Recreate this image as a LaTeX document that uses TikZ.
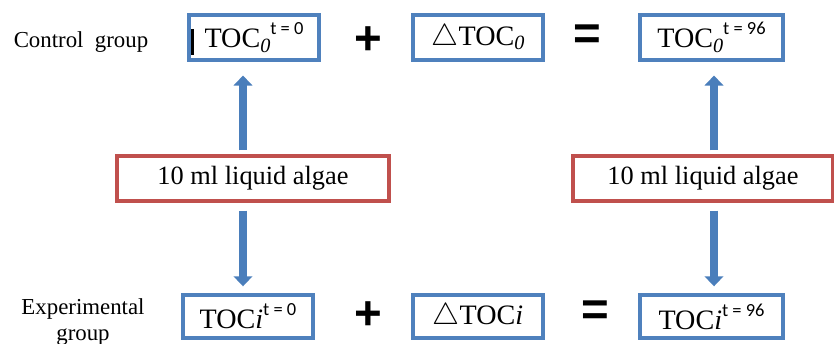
\documentclass[tikz,border=0pt]{standalone}
\usepackage{fontspec}
\setmainfont{Liberation Serif}
\newfontfamily\supfont[Numbers=Lining]{Carlito}
\newfontfamily\signfont{Liberation Sans}
\usetikzlibrary{arrows.meta}
\definecolor{AlgaBlue}{HTML}{4F81BD}
\definecolor{AlgaRed}{HTML}{C0504D}
\definecolor{AlgaArrow}{HTML}{4A7EBB}
\newcommand{\tocsub}[1]{\raisebox{-0.35ex}{\fontsize{11.5}{12}\selectfont\itshape #1}}
\newcommand{\tocsup}[1]{\raisebox{1.0ex}{\fontsize{10.5}{11}\selectfont\supfont #1}}
\tikzset{
  every node/.style={font=\fontsize{15}{18}\selectfont, text=black, inner sep=0pt},
  tocbox/.style={draw=AlgaBlue, line width=1.9pt, minimum width=2.6cm, minimum height=0.9cm,
    font=\fontsize{16}{18}\selectfont},
  widebox/.style={tocbox, minimum width=2.86cm},
  algaebox/.style={draw=AlgaRed, line width=1.9pt, minimum height=0.9cm},
  rowlabel/.style={font=\fontsize{13}{14.7}\selectfont, align=center},
  sign/.style={font=\signfont\bfseries\fontsize{27}{27}\selectfont},
  flow/.style={-{Triangle[length=5.7pt,width=10.5pt]}, draw=AlgaArrow, line width=4.5pt},
}

\begin{document}
\begin{tikzpicture}[x=0.02cm,y=-0.02cm]
  \useasboundingbox (0,0) rectangle (834,344);
  % Control group row
  \node[rowlabel] (ctrl) at (81,42) {Control\ \ group};
  \node[tocbox] (tocA) at (254,37.5) {TOC\tocsub{0}\tocsup{t = 0}};
  \draw[line width=1.2pt] (192.5,29) -- (192.5,55);
  \node[sign] (plusA) at (368,41) {+};
  \node[tocbox] (dtocA) at (478,37.5) {$\triangle$TOC\tocsub{0}};
  \node[sign] (eqA) at (587,37) {=};
  \node[widebox] (tocB) at (711.5,37.5) {TOC\tocsub{0}\tocsup{t = 96}};
  % algae added to both groups
  \node[algaebox, minimum width=5.44cm] (algaeL) at (253,178.5) {10 ml liquid algae};
  \node[algaebox, minimum width=5.2cm] (algaeR) at (703,178.5) {10 ml liquid algae};
  % Experimental group row
  \node[rowlabel] (expt) at (83,322) {Experimental\\group};
  \node[tocbox, minimum height=0.86cm] (tocC) at (248,316.5) {TOC\textit{i}\tocsup{t = 0}};
  \node[sign] (plusB) at (368,316) {+};
  \node[tocbox, minimum height=0.86cm] (dtocB) at (478,316.5) {$\triangle$TOC\textit{i}};
  \node[sign] (eqB) at (595,313) {=};
  \node[widebox, minimum height=0.86cm] (tocD) at (711.5,316.5) {TOC\textit{i}\tocsup{t = 96}};
  % arrows
  \coordinate (colL) at (243,0);
  \coordinate (colR) at (714,0);
  \draw[flow, shorten <=2.3pt, shorten >=7.9pt] (algaeL.north -| colL) -- (tocA.south -| colL);
  \draw[flow, shorten <=4.5pt, shorten >=4pt] (algaeL.south -| colL) -- (tocC.north -| colL);
  \draw[flow, shorten <=2.3pt, shorten >=7.9pt] (algaeR.north -| colR) -- (tocB.south -| colR);
  \draw[flow, shorten <=4.5pt, shorten >=4pt] (algaeR.south -| colR) -- (tocD.north -| colR);
\end{tikzpicture}
\end{document}
